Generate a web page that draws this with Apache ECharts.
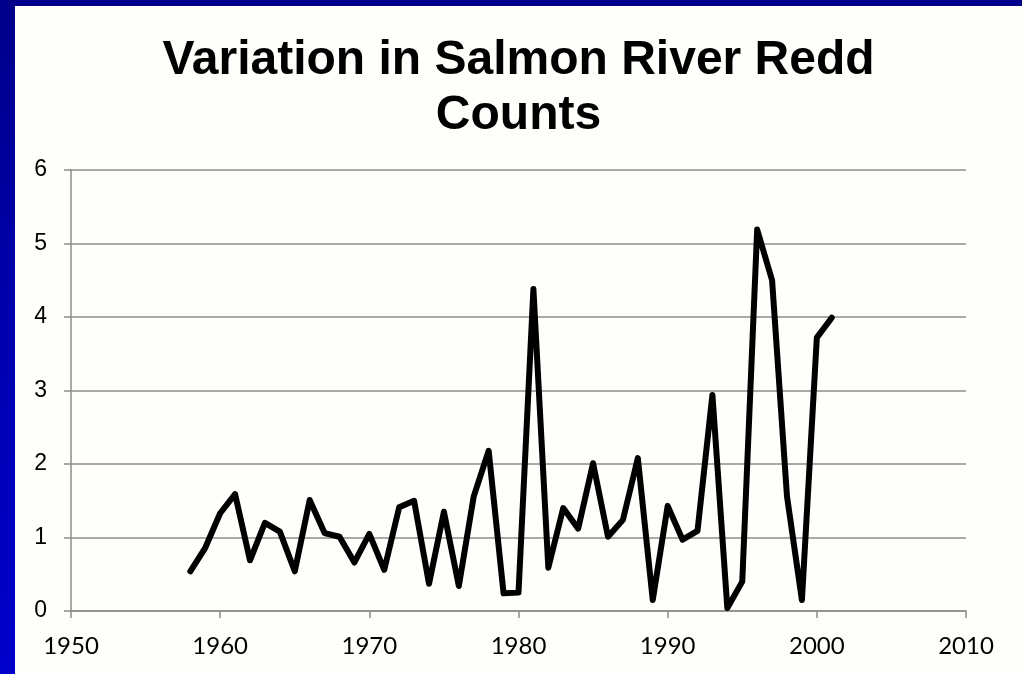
<!DOCTYPE html>
<html>
<head>
<meta charset="utf-8">
<script src="https://cdn.jsdelivr.net/npm/echarts@6/dist/echarts.min.js"></script>
<style>
html,body{margin:0;padding:0;width:1022px;height:674px;overflow:hidden;}
body{background:linear-gradient(180deg,#00008a 0%,#0000b0 50%,#0000cc 100%);position:relative;}
#chart{position:absolute;left:15px;top:6px;width:1007px;height:668px;background:#fefffa;}
</style>
</head>
<body>
<div id="chart"></div>
<script>
const years = [1958,1959,1960,1961,1962,1963,1964,1965,1966,1967,1968,1969,1970,1971,1972,1973,1974,1975,1976,1977,1978,1979,1980,1981,1982,1983,1984,1985,1986,1987,1988,1989,1990,1991,1992,1993,1994,1995,1996,1997,1998,1999,2000,2001];
const values = [0.54,0.86,1.33,1.59,0.69,1.20,1.08,0.54,1.51,1.06,1.01,0.66,1.05,0.56,1.41,1.50,0.37,1.35,0.34,1.56,2.18,0.24,0.25,4.38,0.59,1.40,1.12,2.01,1.01,1.24,2.08,0.15,1.43,0.97,1.09,2.94,0.04,0.40,5.19,4.50,1.56,0.15,3.72,3.99];
const xTicks = [1950,1960,1970,1980,1990,2000,2010];
const yTicks = [0,1,2,3,4,5,6];
const titleText = 'Variation in Salmon River Redd\nCounts';

const chart = echarts.init(document.getElementById('chart'));
const gray = '#8c8c8c';
chart.setOption({
  backgroundColor: '#fefffa',
  animation: false,
  title: {
    text: titleText,
    left: 'center',
    top: 22,
    textStyle: {
      fontFamily: '"Liberation Sans", Arial, sans-serif',
      fontWeight: 'bold',
      fontSize: 48,
      lineHeight: 55,
      color: '#000'
    }
  },
  grid: {left: 56, right: 56, top: 164, bottom: 63, containLabel: false},
  xAxis: {
    type: 'value',
    min: xTicks[0],
    max: xTicks[xTicks.length - 1],
    interval: 10,
    axisLine: {show: true, lineStyle: {color: gray, width: 1.5}},
    axisTick: {show: true, length: 7, inside: false, lineStyle: {color: gray, width: 1.5}},
    splitLine: {show: false},
    axisLabel: {
      color: '#000',
      fontFamily: 'Lato, "Open Sans", sans-serif',
      fontSize: 24,
      margin: 23,
      formatter: v => String(v)
    }
  },
  yAxis: {
    type: 'value',
    min: yTicks[0],
    max: yTicks[yTicks.length - 1],
    interval: 1,
    axisLine: {show: true, lineStyle: {color: gray, width: 1.5}},
    axisTick: {show: true, length: 7, inside: false, lineStyle: {color: gray, width: 1.5}},
    splitLine: {show: true, lineStyle: {color: gray, width: 1.5}},
    axisLabel: {
      color: '#000',
      fontFamily: '"Liberation Sans", Arial, sans-serif',
      fontSize: 23,
      margin: 24,
      formatter: v => String(v)
    }
  },
  series: [{
    type: 'line',
    data: years.map((y, i) => [y, values[i]]),
    showSymbol: false,
    symbol: 'none',
    lineStyle: {color: '#000', width: 6, join: 'round', cap: 'round'}
  }]
});
</script>
</body>
</html>
